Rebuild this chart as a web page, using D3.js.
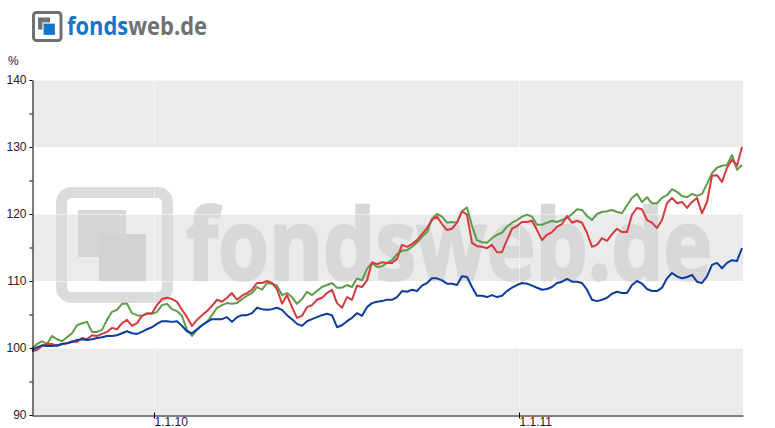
<!DOCTYPE html>
<html><head><meta charset="utf-8">
<script src="https://cdn.jsdelivr.net/npm/d3@7"></script>
<style>
body{margin:0;background:#fff}
svg{display:block}
.lbl{font-family:"Liberation Sans",Arial,sans-serif;font-size:12px;fill:#222}
</style>
</head><body>
<svg id="c" width="775" height="428"></svg>
<script>
// ---- data ----
const startDate = "2009-09-01";
const endDate = "2011-08-13";
const stepDays = 5;
const yTicks = [90, 100, 110, 120, 130, 140];
const yMinorTicks = [95, 105, 115, 125, 135];
const bands = [[90, 100], [110, 120], [130, 140]];
const xTickDates = ["2010-01-01", "2011-01-01"];
const xTickLabels = ["1.1.10", "1.1.11"];
const unitLabel = "%";

const blue = [
99.7,100.1,100.4,100.3,100.3,100.4,100.6,100.7,100.9,101.2,
101.3,101.2,101.3,101.5,101.6,101.8,101.8,101.9,102.2,102.5,
102.2,102.1,102.4,102.8,103.1,103.6,104.0,104.0,103.9,104.0,
103.3,102.5,102.2,102.8,103.4,103.9,104.3,104.3,104.3,104.6,
103.9,104.6,104.9,104.9,105.2,106.0,105.8,105.7,105.8,106.0,
105.7,104.9,104.3,103.6,103.3,104.0,104.3,104.6,104.9,105.1,
104.9,103.1,103.4,104.0,104.5,105.2,104.8,106.1,106.7,106.9,
107.0,107.2,107.2,107.6,108.5,108.4,108.7,108.5,109.3,109.7,
110.4,110.4,110.1,109.6,109.6,109.4,110.7,110.6,109.1,107.8,
107.8,107.6,107.9,107.6,107.8,108.5,109.0,109.4,109.7,109.6,
109.3,109.0,108.7,108.8,109.1,109.7,109.9,110.3,109.9,109.9,
109.7,108.7,107.2,107.0,107.2,107.5,108.1,108.4,108.2,108.2,
109.4,110.0,109.6,108.8,108.5,108.5,109.0,110.4,111.2,110.7,
110.4,110.6,110.9,109.9,109.7,110.7,112.4,112.7,111.9,112.7,
113.1,113.0,114.9];

const green = [
99.9,100.6,101.0,100.6,101.8,101.3,101.0,101.6,102.2,103.4,
103.7,103.9,102.4,102.4,102.7,104.2,105.4,105.7,106.6,106.6,
105.2,104.9,104.8,105.2,105.1,105.4,106.4,106.6,105.8,105.5,
104.8,102.7,101.8,102.7,103.4,103.9,104.9,106.0,106.4,106.7,
106.6,106.7,107.3,107.8,108.2,109.1,108.7,109.7,109.6,109.3,
107.9,108.2,107.6,106.6,107.3,108.4,107.9,108.5,109.1,109.4,
109.7,109.0,109.0,109.4,109.1,110.4,110.1,111.8,112.7,112.1,
112.2,112.7,113.1,114.0,114.5,114.6,115.1,115.7,116.6,117.3,
119.3,120.0,119.6,118.7,118.8,118.7,120.4,121.0,118.2,116.1,
115.8,115.7,116.4,116.9,117.2,118.1,118.7,119.1,119.6,119.9,
119.6,118.4,118.4,118.7,119.0,118.8,119.1,119.4,120.0,120.7,
120.6,119.7,119.1,120.0,120.3,120.4,120.6,120.3,120.1,121.3,
122.4,123.0,121.8,122.5,121.6,121.6,122.4,122.8,123.7,123.3,
122.7,122.5,123.0,122.7,123.0,124.5,126.1,126.9,127.2,127.3,
128.8,126.6,127.3];

const red = [
99.5,99.7,100.3,100.6,100.6,100.3,100.6,100.7,101.0,100.9,
101.5,101.3,101.9,101.8,102.1,102.4,103.0,102.8,103.7,104.2,
103.3,103.7,104.8,105.1,105.2,106.4,107.3,107.5,107.3,106.9,
105.7,104.6,103.3,104.2,104.9,105.5,106.3,107.2,106.9,107.5,
108.2,107.2,107.8,108.2,108.7,109.7,109.7,110.0,109.7,108.8,
106.6,107.9,106.1,104.5,104.8,106.1,106.4,107.2,107.5,108.2,
108.7,106.7,106.0,107.6,107.2,109.3,109.1,110.1,112.8,112.5,
112.8,112.7,112.7,113.3,115.4,115.1,115.5,116.1,117.0,117.9,
119.1,119.6,118.5,117.6,117.8,118.7,120.4,119.9,115.7,115.2,
115.1,114.9,115.4,114.3,114.3,116.1,117.8,118.2,118.8,118.8,
119.0,117.6,116.1,116.9,117.3,118.1,118.5,119.7,118.7,119.0,
118.7,117.2,115.1,115.4,116.4,116.0,117.0,117.8,117.3,117.3,
119.9,120.9,120.7,119.1,118.7,117.9,119.1,121.6,122.4,121.6,
121.8,120.9,121.8,122.4,120.1,121.8,125.7,125.8,124.8,126.9,
128.1,127.2,130.0];

const seriesList = [
  {name: "green", values: green, color: "#5c9c4a"},
  {name: "red", values: red, color: "#d63a3c"},
  {name: "blue", values: blue, color: "#0c3c9e"}
];

// ---- chart ----
const parse = d3.timeParse("%Y-%m-%d");
const t0 = parse(startDate);
const dates = blue.map((_, i) => d3.timeDay.offset(t0, i * stepDays));

const L = 32, R = 743, T = 80, B = 415;
const x = d3.scaleTime().domain([t0, parse(endDate)]).range([L, R]);
const y = d3.scaleLinear().domain([90, 140]).range([B, T]);

const svg = d3.select("#c");

// bands
svg.append("g").selectAll("rect").data(bands).join("rect")
  .attr("x", L).attr("width", R - L)
  .attr("y", d => y(d[1])).attr("height", d => y(d[0]) - y(d[1]))
  .attr("fill", "#ebebeb");

// watermark
const wm = svg.append("g");
wm.append("rect").attr("x", 61.5).attr("y", 192.5).attr("width", 106).attr("height", 105)
  .attr("rx", 10).attr("fill", "none").attr("stroke", "#dbdbdb").attr("stroke-width", 11);
wm.append("rect").attr("x", 78).attr("y", 210).attr("width", 48).attr("height", 47).attr("fill", "#d6d6d6");
wm.append("rect").attr("x", 99).attr("y", 234).attr("width", 47).attr("height", 47).attr("fill", "#d2d2d2");
wm.append("text").attr("x", 186).attr("y", 280)
  .attr("font-family", "'Open Sans', 'DejaVu Sans', sans-serif").attr("font-weight", 700)
  .attr("font-size", 98).attr("fill", "#d8d8d8").attr("stroke", "#d8d8d8").attr("stroke-width", 2.5)
  .attr("textLength", 526).attr("lengthAdjust", "spacingAndGlyphs")
  .text("fondsweb.de");

// grid lines (dotted white)
const grid = svg.append("g").attr("stroke", "#fff").attr("stroke-dasharray", "1,1");
grid.selectAll("line.h").data(yTicks.filter(v => v > 90)).join("line")
  .attr("x1", L).attr("x2", R).attr("y1", d => Math.round(y(d)) + 0.5).attr("y2", d => Math.round(y(d)) + 0.5);
grid.selectAll("line.v").data(xTickDates).join("line")
  .attr("x1", d => Math.round(x(parse(d))) + 0.5).attr("x2", d => Math.round(x(parse(d))) + 0.5)
  .attr("y1", T).attr("y2", B);

// series
const line = d3.line().x((d, i) => x(dates[i])).y(d => y(d));
svg.append("g").selectAll("path").data(seriesList).join("path")
  .attr("d", d => line(d.values))
  .attr("fill", "none").attr("stroke", d => d.color)
  .attr("stroke-width", 2).attr("stroke-linejoin", "round");

// y axis
const yAxis = d3.axisLeft(y).tickValues(yTicks).tickSize(3).tickSizeOuter(0).tickPadding(3);
const yg = svg.append("g").attr("transform", `translate(${L + 0.5},0)`).call(yAxis);
yg.select(".domain").attr("stroke", "#000");
yg.selectAll(".tick line").attr("stroke", "#000");
yg.selectAll(".tick text").attr("class", "lbl").attr("dy", "0.32em");
const yMinor = d3.axisLeft(y).tickValues(yMinorTicks).tickSize(3).tickFormat("");
const ym = svg.append("g").attr("transform", `translate(${L + 0.5},0)`).call(yMinor);
ym.select(".domain").remove();
ym.selectAll(".tick line").attr("stroke", "#000");

// x axis
const xAxis = d3.axisBottom(x).tickValues(xTickDates.map(parse)).tickSize(3).tickSizeOuter(0)
  .tickFormat((d, i) => xTickLabels[i]);
const xg = svg.append("g").attr("transform", `translate(0,${B + 0.5})`).call(xAxis);
xg.select(".domain").attr("stroke", "#000");
xg.selectAll(".tick line").attr("stroke", "#000").attr("y1", -3).attr("y2", 3);
xg.selectAll(".tick text").attr("class", "lbl").attr("text-anchor", "start").attr("x", 0).attr("y", 2).attr("dy", "0.71em");

// unit label
svg.append("text").attr("class", "lbl").attr("x", 8).attr("y", 65).text(unitLabel);

// header logo
const lg = svg.append("g");
lg.append("rect").attr("x", 33.5).attr("y", 12.5).attr("width", 27.5).attr("height", 28)
  .attr("rx", 3).attr("fill", "none").attr("stroke", "#6f7072").attr("stroke-width", 3);
lg.append("rect").attr("x", 38).attr("y", 17.5).attr("width", 12).attr("height", 12).attr("fill", "#6f7072");
lg.append("rect").attr("x", 43).attr("y", 23).attr("width", 12.5).attr("height", 12.5)
  .attr("fill", "#1476c6").attr("stroke", "#fff").attr("stroke-width", 1.2);
const lt = lg.append("text").attr("x", 67).attr("y", 35)
  .attr("font-family", "'Open Sans', 'DejaVu Sans', sans-serif").attr("font-weight", 700)
  .attr("font-size", 25).attr("textLength", 140).attr("lengthAdjust", "spacingAndGlyphs");
lt.append("tspan").attr("fill", "#1476c6").text("fonds");
lt.append("tspan").attr("fill", "#6f7072").text("web.de");
</script>
</body></html>
